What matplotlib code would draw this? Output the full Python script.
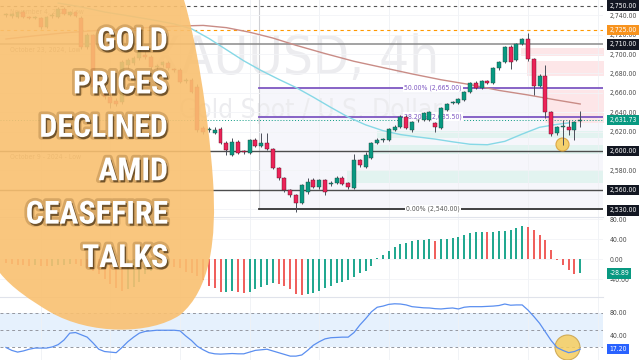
import os
import numpy as np
import matplotlib
matplotlib.use('Agg')
import matplotlib.pyplot as plt
import matplotlib.patheffects as pe
from matplotlib import font_manager as fm
from matplotlib.path import Path
from matplotlib.patches import PathPatch
from matplotlib.transforms import blended_transform_factory

plt.rcParams['font.family'] = ['Liberation Sans Narrow', 'DejaVu Sans']
plt.rcParams['font.stretch'] = 'condensed'

###############################################
# Data: XAUUSD 4h candles, oldest first
###############################################
opens = [2740, 2739.5, 2738.2, 2743.3, 2738.2, 2737.5, 2737.1, 2727.8, 2739, 2738.2,
         2746.4, 2740.2, 2743.3, 2737.1, 2707.2, 2719.6, 2660, 2663, 2655.7, 2652,
         2650.5, 2688.7, 2690.7, 2695.9, 2699, 2696.9, 2686.6, 2688.7, 2690.7, 2684,
         2683.5, 2672.2, 2673.2, 2666, 2623.7, 2621.6, 2618.6, 2622.7, 2608.2, 2595.9,
         2609.3, 2599.5, 2597.9, 2611.3, 2605.2, 2608.2, 2602.1, 2582.5, 2572.2, 2559.8,
         2554.6, 2546.4, 2557.7, 2570.1, 2562.9, 2570.1, 2566, 2567, 2572.2, 2567,
         2561.9, 2590.7, 2583.5, 2592.8, 2608.2, 2611, 2611.3, 2621.6, 2624.7, 2635.1,
         2621.6, 2631.5, 2632, 2632, 2628.9, 2623.7, 2642.3, 2649.5, 2649.5, 2652.6,
         2660.8, 2670.1, 2665, 2672.2, 2670.1, 2685.6, 2691.8, 2707.2, 2693.8, 2710.3,
         2715.5, 2694.9, 2667, 2677.3, 2640.2, 2618.6, 2624.7, 2624.7, 2621.6, 2631]
highs = [2742, 2742, 2744.5, 2745, 2739.5, 2739.5, 2738.5, 2739.5, 2742, 2748,
         2748.5, 2744.5, 2744.5, 2739, 2721.5, 2721, 2668, 2667, 2659.8, 2655,
         2694, 2695.5, 2698, 2706, 2703, 2699, 2690, 2693, 2693, 2686,
         2685.5, 2675, 2675, 2669, 2626, 2625, 2624.5, 2624.5, 2610, 2613.4,
         2611, 2601.5, 2612.5, 2613, 2618.6, 2618.6, 2603.5, 2584, 2573, 2561,
         2556, 2566, 2572.2, 2572, 2571.5, 2571.5, 2569, 2574.5, 2574, 2568.5,
         2596.9, 2592, 2599, 2609.5, 2613, 2613, 2624, 2626.5, 2637, 2637,
         2631, 2633.5, 2640.5, 2641.5, 2630, 2645.5, 2649.5, 2651.5, 2655, 2661.5,
         2671, 2672, 2673.5, 2673.5, 2686.5, 2692.5, 2708.5, 2709, 2711.5, 2716.5,
         2721.7, 2696, 2679, 2688.7, 2641.5, 2626, 2632, 2632, 2630.5, 2641.2]
lows = [2738, 2737.5, 2737, 2737, 2736, 2736, 2726, 2726.5, 2737.5, 2737,
        2740, 2739, 2738, 2705, 2705.5, 2664, 2657, 2654, 2644.3, 2646,
        2648, 2686, 2689, 2694, 2695, 2684.5, 2684.5, 2687, 2684, 2681.5,
        2670, 2670.5, 2659.5, 2620, 2617.5, 2619.5, 2617.5, 2607, 2595.9, 2594.5,
        2596.5, 2597, 2597, 2604, 2604, 2601, 2581, 2570.5, 2558, 2553,
        2537.1, 2545, 2556, 2561.5, 2561, 2554.6, 2563.5, 2566, 2564.5, 2560.5,
        2560.5, 2584, 2582.5, 2591.5, 2607, 2609.5, 2610, 2620.5, 2623.5, 2622.5,
        2620, 2630, 2630.5, 2631, 2619.6, 2622.5, 2641, 2648.5, 2648.5, 2651.5,
        2659.5, 2663.5, 2664, 2669, 2669, 2684, 2690.5, 2684.5, 2692.5, 2709,
        2693, 2657.7, 2665.5, 2634, 2615.5, 2617, 2606.2, 2616.5, 2611.3, 2624.7]
closes = [2740.5, 2741, 2743.3, 2738.2, 2737.1, 2738, 2727.8, 2738.2, 2740.2, 2746.4,
          2741.2, 2743.3, 2739.2, 2707.2, 2719.6, 2666, 2666.5, 2655.7, 2649.5, 2648.5,
          2691.8, 2693.8, 2695.9, 2704.1, 2697, 2686.6, 2688, 2691.8, 2685.6, 2683.5,
          2671.1, 2673.2, 2660.8, 2621.6, 2619.6, 2622, 2621.6, 2608.2, 2601, 2609.3,
          2597.9, 2599, 2611.3, 2605.2, 2608.2, 2602.1, 2582.5, 2572.2, 2559.8, 2554.6,
          2546.4, 2564.9, 2568, 2562.9, 2570.1, 2557.7, 2567, 2572.2, 2566, 2562.9,
          2590.7, 2585.6, 2595.9, 2608.2, 2611.3, 2611.8, 2622.7, 2624.7, 2635.1, 2623.7,
          2629.9, 2632, 2639.2, 2640.2, 2624.7, 2644.3, 2648.5, 2650.5, 2653.6, 2660.8,
          2670.1, 2665, 2672.2, 2670.1, 2685.6, 2691.8, 2707.2, 2691.8, 2710.3, 2715.5,
          2694.9, 2667, 2677.3, 2640.2, 2617.5, 2624.7, 2625.5, 2621.6, 2629.9, 2631.73]

# moving averages (read at a few bars)
ma_slow_idx = [0, 5, 10, 15, 20, 25, 30, 34, 38, 42, 46, 50, 55, 60, 65, 70, 75, 80, 85, 90, 95, 99]
ma_slow = [2715.5, 2718.8, 2721.8, 2724.0, 2725.8, 2727.5, 2728.9, 2729.5, 2727.2, 2722.5, 2716.5,
           2709.0, 2700.5, 2692.5, 2686.0, 2679.5, 2673.5, 2668.5, 2662.5, 2657.8, 2652.5, 2648.5]
ma_fast_idx = [9, 13, 17, 21, 25, 29, 32, 35, 38, 41, 44, 47, 50, 53, 56, 59, 62, 65, 68, 71, 74,
               77, 80, 83, 86, 89, 92, 95, 97]
ma_fast = [2752.5, 2748.5, 2743.3, 2739.5, 2735.5, 2731.0, 2726.0, 2716.0, 2704.5, 2693.0, 2683.0,
           2674.0, 2665.5, 2655.5, 2645.0, 2635.0, 2627.0, 2621.0, 2617.0, 2614.5, 2612.3, 2609.5,
           2607.0, 2606.5, 2610.0, 2617.5, 2624.5, 2627.5, 2629.0]

macd_hist = [-8, -10, -12, -12, -13, -12, -14, -14, -13, -12,
             -11, -10, -10, -14, -18, -24, -30, -40, -50, -58,
             -64, -60, -55, -45, -30, -24, -18, -15, -14, -15,
             -18, -25, -27, -34, -42, -54, -58.7, -66, -65, -64,
             -66, -68, -65.3, -60.7, -56.7, -52, -48.7, -50, -54, -60.7,
             -70, -72, -70, -67.3, -63.3, -58.7, -54, -48.7, -45.3, -42,
             -35.3, -27.3, -23.3, -14, 2, 8, 16.7, 24.7, 30, 32.7,
             35.3, 38, 38.8, 39.5, 36.7, 39.3, 40, 41.3, 43.3, 48.7,
             52.7, 53.3, 54.5, 54, 54.7, 55.3, 56.7, 59, 62, 66,
             64, 58, 48.7, 38, 19, -2, -12, -22, -29.5, -28.89]

rsi = [20, 15, 12, 14, 17, 19, 19, 19, 21, 25,
       33, 45, 46, 42, 38, 28, 17, 13, 12, 11,
       20, 30, 38, 45, 48, 49, 50, 50, 50, 50,
       49, 40, 32, 22, 16, 11, 9, 8.5, 9, 9.5,
       9, 9, 12, 15, 16, 17, 14, 11, 8, 5,
       5, 7, 15, 24, 30, 35, 37, 37.5, 38, 38,
       46, 59, 70, 82, 90, 92, 95, 96, 95.6, 94,
       91, 90, 89, 88.7, 87.5, 87, 88, 88.7, 87, 90,
       91, 91, 91, 91.5, 92, 93, 95.6, 93.5, 94, 94,
       85, 74, 62, 47, 32, 20, 15, 11, 13, 17.2]

# key levels and zones
level_high = 2750
level_orange = 2725
level_oct23 = 2710
levels_low = [2600, 2560]
last_price = 2631.73
fib_start = 43.6
fib_levels = [2665.0, 2635.5, 2540.0]
fib_pct = ['50.00%', '38.20%', '0.00%']
supply_zones = [(88.8, 2697.5, 2706.0), (89.8, 2677.0, 2693.0), (93.4, 2640.0, 2663.0), (92.9, 2629.0, 2639.0)]
demand_zones = [(64.0, 2613.4, 2620.6), (63.3, 2596.9, 2606.2), (58.8, 2567.0, 2580.4)]
tag_prices = [2750, 2725, 2710, 2600, 2560, 2538.8]
tag_texts = ['2,750.00', '2,725.00', '2,710.00', '2,600.00', '2,560.00', '2,530.00']
macd_last = -28.89
rsi_last = 17.20
headline = ['GOLD', 'PRICES', 'DECLINED', 'AMID', 'CEASEFIRE', 'TALKS']

###############################################
# styles
###############################################
W, H = 640, 360
GREEN = '#089981'
RED = '#ec2358'
H_TEAL = '#22a890'
H_RED = '#f0605d'
PURPLE = '#7e57c2'
DARK = '#131722'
LBL = '#4a4a4a'
XMIN, XMAX = -1.03, 102.93
TAG_X = 609.5 / 603


def px_rect(x0, y0, x1, y1):
	return [x0 / W, 1 - y1 / H, (x1 - x0) / W, (y1 - y0) / H]


def fit_size(fig, text, target_px, base=6.0, **kw):
	"""font size that makes `text` about target_px wide"""
	t = fig.text(0, 0, text, fontsize=base, **kw)
	w = t.get_window_extent(renderer=fig.canvas.get_renderer()).width
	t.remove()
	return base * target_px / w


def price_tag(a, y, text, fc):
	tr = blended_transform_factory(a.transAxes, a.transData)
	a.text(TAG_X, y, text, transform=tr, ha='left', va='center', fontsize=FS,
		   color='white', zorder=20, clip_on=False,
		   bbox=dict(boxstyle='square,pad=0.32', fc=fc, ec='none'))


def style_panel(a, grid_y=True):
	a.set_xlim(XMIN, XMAX)
	for s in a.spines.values():
		s.set_visible(False)
	a.set_xticks(np.arange(6, 103, 12))
	a.tick_params(axis='x', length=0, labelbottom=False)
	a.yaxis.tick_right()
	a.tick_params(axis='y', length=0, pad=4.7, labelsize=FS, labelcolor=LBL)
	a.grid(axis='x', color='#eff1f5', lw=0.6, zorder=0)
	if grid_y:
		a.grid(axis='y', color='#f3f4f7', lw=0.6, zorder=0)


def headline_font():
	want = ['NotoSans-ExtraCondensedBlack', 'NotoSans-ExtraCondensedExtraBold', 'NotoSans-ExtraCondensedBold',
			'NotoSans-CondensedBlack', 'NotoSans-CondensedExtraBold', 'NotoSans-CondensedBold',
			'RobotoCondensed-Bold', 'RobotoCondensed-Black', 'OpenSans-CondensedBold',
			'OpenSansCondensed-Bold', 'LiberationSansNarrow-Bold', 'DejaVuSansCondensed-Bold']
	names = {os.path.splitext(os.path.basename(f.fname))[0]: f.fname for f in fm.fontManager.ttflist}
	for w in want:
		if w in names:
			return fm.FontProperties(fname=names[w])
	return fm.FontProperties(family='DejaVu Sans', weight='bold')


fig = plt.figure(figsize=(6.4, 3.6), dpi=100, facecolor='white')
FS = min(6.2, fit_size(fig, '2,750.00', 27.5))
ax = fig.add_axes(px_rect(0, 0, 603, 217))
ax2 = fig.add_axes(px_rect(0, 217, 603, 297))
ax3 = fig.add_axes(px_rect(0, 297, 603, 360))

###############################################
# main price panel
###############################################
style_panel(ax)
ax.set_ylim(2532, 2755.7)
yt = np.arange(2540, 2741, 20)
ax.set_yticks(yt)
ax.set_yticklabels([f'{v:,.2f}' for v in yt])

wm_size = fit_size(fig, 'XAUUSD, 4h', 290)
ax.text(0.488, 0.728, 'XAUUSD, 4h', transform=ax.transAxes, fontsize=wm_size, color='#ececef',
		ha='center', va='center', zorder=0.8)
ax.text(0.515, 0.49, 'Gold Spot / U.S. Dollar', transform=ax.transAxes,
		fontsize=fit_size(fig, 'Gold Spot / U.S. Dollar', 262), color='#ececef',
		ha='center', va='center', zorder=0.8)

# fib area + zones
ax.fill_between([fib_start, XMAX], fib_levels[2], fib_levels[0], color='#f6f6fb', lw=0, zorder=0.6)
for x0, lo, hi in supply_zones:
	ax.fill_between([x0, XMAX + 1], lo, hi, color='#fde6e8', lw=0, zorder=1)
for x0, lo, hi in demand_zones:
	ax.fill_between([x0, XMAX], lo, hi, color='#e2f3f0', lw=0, zorder=1)
ax.plot([fib_start, fib_start], [fib_levels[2], 2760], color='#cfd0d4', lw=0.8, zorder=1.2)

# horizontal levels
ax.axhline(level_high, color='#555', lw=0.8, ls=(0, (3, 3)), zorder=2)
ax.axhline(level_orange, color='#ff9800', lw=0.8, ls=(0, (3, 3)), zorder=2)
ax.axhline(level_oct23, color='#8a8a8a', lw=1.1, zorder=2)
for lv in levels_low:
	ax.axhline(lv, color='#4d4d4d', lw=1.0, zorder=2)
ax.axhline(last_price, color=GREEN, lw=0.7, ls=(0, (1, 2)), zorder=2)

for lv, name in zip(fib_levels, fib_pct):
	col = '#333333' if name == '0.00%' else PURPLE
	ax.plot([fib_start, XMAX], [lv, lv], color=col, lw=1.3, zorder=2.2)
	ax.text(73.6, lv, f'{name} ({lv:,.2f})', color='#555' if name == '0.00%' else PURPLE,
			fontsize=FS, ha='center', va='center', zorder=2.4,
			bbox=dict(boxstyle='square,pad=0.15', fc='white', ec='none'))

tr0 = blended_transform_factory(ax.transAxes, ax.transData)
ax.text(0.017, 2743.3, 'November 4, 2024, Low', transform=tr0, fontsize=FS, color='#8a8a8a', va='center')
ax.text(0.017, 2704.1, 'October 23, 2024, Low', transform=tr0, fontsize=FS, color='#8a8a8a', va='center')
ax.text(0.017, 2593.8, 'October 9 - 2024 - Low', transform=tr0, fontsize=FS, color='#8a8a8a', va='center')

# moving averages
ax.plot(ma_slow_idx, ma_slow, color='#c98c86', lw=1.0, zorder=3)
ax.plot(ma_fast_idx, ma_fast, color='#86d8e6', lw=1.0, zorder=3)

# candles
idx = np.arange(len(opens))
o, hi_, lo_, c = map(np.array, (opens, highs, lows, closes))
up = c >= o
body_lo = np.minimum(o, c)
body_h = np.maximum(np.abs(c - o), 0.9)
ax.vlines(idx, lo_, hi_, color='#4a4e59', lw=0.7, zorder=5)
ax.bar(idx[up], body_h[up], bottom=body_lo[up], width=0.66, color=GREEN,
	   edgecolor='#24443f', linewidth=0.3, zorder=6)
ax.bar(idx[~up], body_h[~up], bottom=body_lo[~up], width=0.66, color=RED,
	   edgecolor='#5a1026', linewidth=0.3, zorder=6)

ax.plot([95.8], [2607.2], 'o', ms=9.4, mfc='#f6cd5e', mec='#d9a13b', mew=0.8, alpha=0.9, zorder=4.5)

tag_colors = [DARK, '#f7931e', DARK, DARK, DARK, DARK]
for p, t, fc in zip(tag_prices, tag_texts, tag_colors):
	price_tag(ax, p, t, fc)
price_tag(ax, last_price, f'{last_price:,.2f}', GREEN)

###############################################
# MACD histogram
###############################################
style_panel(ax2)
ax2.spines['top'].set_visible(True)
ax2.spines['top'].set_color('#e0e3eb')
ax2.set_ylim(-76, 84)
mt = [-40, 0, 40, 80]
ax2.set_yticks(mt)
ax2.set_yticklabels([f'{v:.2f}' for v in mt])
macd = np.array(macd_hist)
rising = np.r_[False, np.diff(macd) > 0]
ax2.bar(idx, macd, width=0.36, color=np.where(rising, H_TEAL, H_RED), zorder=3)
price_tag(ax2, macd_last, f'{macd_last:.2f}', GREEN)

###############################################
# RSI
###############################################
style_panel(ax3, grid_y=False)
ax3.spines['top'].set_visible(True)
ax3.spines['top'].set_color('#e0e3eb')
ax3.set_ylim(-1.74, 107.8)
ax3.set_yticks([40, 80])
ax3.set_yticklabels(['40.00', '80.00'])
ax3.axhspan(20, 80, color='#e6f1fd', lw=0, zorder=1)
for lv in (80, 50, 20):
	ax3.axhline(lv, color='#9598a1', lw=0.7, ls=(0, (3, 3)), zorder=1.5)
ax3.plot([96.7], [20.9], 'o', ms=18, mfc='#f6cd5e', mec='#c9a24a', mew=0.8, alpha=0.85, zorder=2)
ax3.plot(idx, rsi, color='#5b8ff0', lw=0.9, zorder=3)
price_tag(ax3, rsi_last, f'{rsi_last:.2f}', '#2962ff')

###############################################
# orange overlay with headline
###############################################
blob_px = [(0, 0), (184, 0),
		   (196, 40), (208, 110), (213, 180),
		   (217, 240), (210, 290), (180, 315),
		   (150, 335), (90, 335), (50, 312),
		   (30, 300), (12, 288), (0, 273),
		   (0, 0)]
codes = [Path.MOVETO, Path.LINETO] + [Path.CURVE4] * 12 + [Path.CLOSEPOLY]
verts = [(x / W, 1 - y / H) for x, y in blob_px]
blob = PathPatch(Path(verts, codes), transform=fig.transFigure, fc='#f9c070', ec='none',
				 alpha=0.9, zorder=10)
fig.add_artist(blob)

hfont = headline_font()
shadow = [pe.Stroke(linewidth=4, foreground='#5a3508', alpha=0.22),
		  pe.SimplePatchShadow(offset=(1.0, -1.5), shadow_rgbFace='#2e1d05', alpha=0.6),
		  pe.Normal()]
texts = []
for k, line in enumerate(headline):
	yc = 41 + 43.4 * k
	t = fig.text(168 / W, 1 - yc / H, line, fontproperties=hfont, fontsize=30, color='white',
				 ha='right', va='center', zorder=11, path_effects=shadow)
	texts.append(t)
rend = fig.canvas.get_renderer()
maxw = max(t.get_window_extent(rend).width for t in texts)
size = min(30, 30 * 142 / maxw)
for t in texts:
	t.set_fontsize(size)

fig.savefig('out.png', dpi=100, facecolor='white')
